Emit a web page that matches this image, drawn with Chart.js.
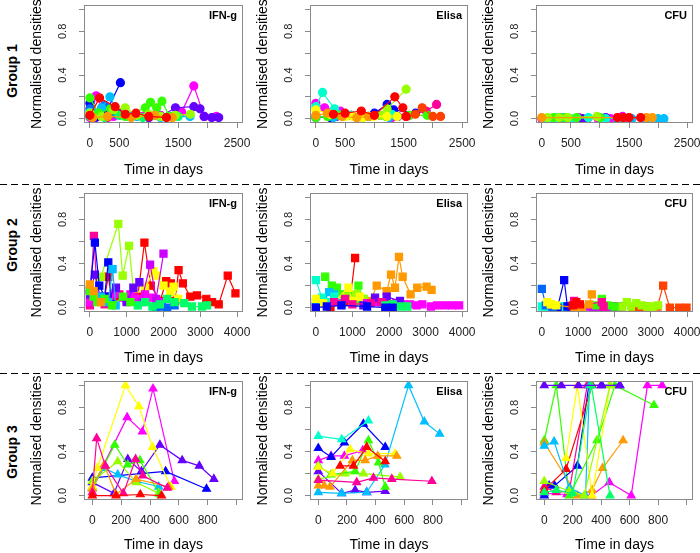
<!DOCTYPE html>
<html lang="en">
<head>
<meta charset="UTF-8">
<title>Normalised densities by group</title>
<script src="https://cdn.jsdelivr.net/npm/chart.js@4.4.0/dist/chart.umd.min.js"></script>
<style>
    body { margin: 0; background: #fff; font-family: "Liberation Sans", Arial, sans-serif; }
    #wrap { position: relative; width: 700px; height: 553px; overflow: hidden; }
    #wrap canvas { position: absolute; }
    .group {
        position: absolute; width: 80px; height: 16px; line-height: 16px;
        text-align: center; font-weight: bold; font-size: 14px; color: #000;
        transform: rotate(-90deg); white-space: nowrap;
    }
    .dash {
        position: absolute; left: 0; width: 700px; height: 1px;
        background: repeating-linear-gradient(to right, #000 0 7px, transparent 7px 11px);
    }
</style>
</head>
<body>
<div id="wrap">
    <div class="group" style="left:-28px; top:63px;">Group 1</div>
    <div class="group" style="left:-28px; top:237px;">Group 2</div>
    <div class="group" style="left:-28px; top:444px;">Group 3</div>
    <div class="dash" style="top:184px;"></div>
    <div class="dash" style="top:373px;"></div>
</div>

<script>
// ---- axis ticks ----
const yTicks = [0, 0.2, 0.4, 0.6, 0.8, 1.0];
const yTickLabels = ['0.0', '', '0.4', '', '0.8', ''];
const xTicksG1 = [0, 500, 1000, 1500, 2000, 2500];
const xTickLabelsG1 = ['0', '500', '', '1500', '', '2500'];
const xTicksG2 = [0, 1000, 2000, 3000, 4000];
const xTickLabelsG2 = ['0', '1000', '2000', '3000', '4000'];
const xTicksG3 = [0, 200, 400, 600, 800, 1000];
const xTickLabelsG3 = ['0', '200', '400', '600', '800', ''];
const panelTitles = ['IFN-g', 'Elisa', 'CFU'];

// ---- rainbow colours ----
const RED = '#FF0000', VERM = '#FF4000', ORANGE = '#FF9900', YELLOW = '#FFFF00',
      CHART = '#99FF00', GREEN = '#33FF00', SPRING = '#00FF66', TEAL = '#00FFCC',
      SKY = '#00BFFF', AZURE = '#0066FF', BLUE = '#0000FF', VIOLET = '#6600FF',
      PURPLE = '#CC00FF', MAGENTA = '#FF00FF', ROSE = '#FF0099';

// ---- Group 1, IFN-g ----
const g1IfnCols = [RED, ORANGE, CHART, GREEN, SPRING, SKY, AZURE, BLUE, VIOLET, MAGENTA, ROSE];
const g1IfnDays = [
    [0, 165, 429, 600, 782, 1000, 1300],
    [50, 300, 700, 1100, 1400],
    [0, 200, 400, 600, 800, 1000, 1200, 1450, 1706],
    [0, 150, 350, 600, 941, 1029, 1135, 1224, 1350],
    [0, 100, 250, 500, 650, 900, 1100, 1300, 1500],
    [0, 200, 341, 500, 800, 1200, 1700],
    [0, 120, 250, 450, 700],
    [0, 100, 250, 518],
    [100, 300, 550, 800, 1000, 1200, 1453, 1765, 1870, 1941, 2070, 2188],
    [0, 106, 206, 400, 600, 900, 1200, 1559, 1765, 1941, 2147],
    [0, 300, 700, 1000, 1400]
];
const g1IfnVals = [
    [0.03, 0.19, 0.11, 0.04, 0.05, 0.02, 0.01],
    [0.01, 0.02, 0.01, 0.03, 0.01],
    [0.05, 0.02, 0.08, 0.10, 0.03, 0.04, 0.02, 0.03, 0.04],
    [0.19, 0.05, 0.09, 0.02, 0.10, 0.15, 0.10, 0.16, 0.02],
    [0.02, 0.04, 0.01, 0.03, 0.02, 0.01, 0.03, 0.01, 0.02],
    [0.06, 0.10, 0.20, 0.03, 0.02, 0.01, 0.02],
    [0.09, 0.05, 0.12, 0.04, 0.02],
    [0.14, 0.02, 0.03, 0.33],
    [0.01, 0.02, 0.06, 0.03, 0.01, 0.02, 0.10, 0.11, 0.09, 0.02, 0.01, 0.01],
    [0.01, 0.21, 0.10, 0.02, 0.05, 0.02, 0.03, 0.06, 0.30, 0.02, 0.02],
    [0.02, 0.01, 0.02, 0.01, 0.02]
];

// ---- Group 1, Elisa ----
const g1ElisaCols = [RED, VERM, ORANGE, YELLOW, CHART, GREEN, TEAL, SKY, BLUE, VIOLET, MAGENTA, ROSE];
const g1ElisaDays = [
    [300, 500, 777, 1000, 1349, 1486, 1543],
    [1543, 1700, 1817, 2000, 2131],
    [0, 200, 450, 700, 900],
    [0, 246, 503, 634, 800, 989, 1217, 1389],
    [1100, 1217, 1543],
    [0, 200, 400, 800, 1200, 1600, 1903],
    [0, 114, 320, 600, 900, 1300],
    [0, 300, 600, 900, 1250],
    [0, 250, 600, 1000, 1217, 1331, 1703],
    [0, 350, 700, 1100, 1400],
    [0, 150, 417, 800, 1300],
    [1600, 1886, 2063]
];
const g1ElisaVals = [
    [0.04, 0.05, 0.07, 0.03, 0.20, 0.10, 0.02],
    [0.02, 0.04, 0.10, 0.02, 0.02],
    [0.03, 0.05, 0.02, 0.01, 0.02],
    [0.08, 0.04, 0.02, 0.02, 0.01, 0.02, 0.02, 0.02],
    [0.03, 0.09, 0.27],
    [0.01, 0.02, 0.03, 0.01, 0.02, 0.03, 0.03],
    [0.11, 0.24, 0.09, 0.03, 0.02, 0.04],
    [0.02, 0.01, 0.03, 0.02, 0.01],
    [0.02, 0.01, 0.03, 0.05, 0.13, 0.08, 0.05],
    [0.01, 0.02, 0.01, 0.03, 0.02],
    [0.14, 0.10, 0.07, 0.02, 0.01],
    [0.03, 0.07, 0.13]
];

// ---- Group 1, CFU ----
const g1CfuCols = [RED, ORANGE, CHART, GREEN, TEAL, VIOLET, SKY, MAGENTA];
const g1CfuDays = [
    [1300, 1400, 1500, 1700],
    [0, 1800, 1900],
    [100, 300, 450, 950],
    [200, 400, 600, 1000],
    [100, 250, 500, 800, 1100],
    [300, 700, 1100],
    [150, 350, 600, 1000, 1300, 1550, 1800, 2000, 2100],
    [0, 225, 397, 635, 787, 968, 1185, 1388, 1500]
];
const g1CfuVals = [
    [0.01, 0.01, 0.01, 0.01],
    [0.01, 0.01, 0.01],
    [0.01, 0.01, 0.01, 0.02],
    [0.01, 0.01, 0.01, 0.01],
    [0.00, 0.01, 0.00, 0.01, 0.00],
    [0.01, 0.00, 0.01],
    [0.00, 0.01, 0.00, 0.01, 0.00, 0.00, 0.00, 0.00, 0.00],
    [0.00, 0.00, 0.00, 0.01, 0.00, 0.00, 0.00, 0.02, 0.00]
];

// ---- Group 2, IFN-g ----
const g2IfnCols = [ORANGE, GREEN, SPRING, SKY, AZURE, BLUE, VIOLET, PURPLE, MAGENTA, ROSE, CHART, YELLOW, RED, RED];
const g2IfnDays = [
    [0, 100, 300],
    [0, 100, 200, 400, 600, 900, 1100],
    [1300, 1500, 1700, 1900, 2100, 2300, 2564, 2773, 3045, 3182],
    [300, 500, 618, 700],
    [1800, 1950, 2100, 2300],
    [0, 136, 255, 400, 500, 600],
    [0, 136, 300, 450, 709, 1000, 1182, 1345],
    [1400, 1636, 1800, 2000],
    [0, 100, 250, 500, 700, 900, 1100, 1300, 1500, 1700, 1900],
    [0, 109, 200, 400, 600, 800, 1000, 1200],
    [300, 773, 891, 1064, 1200],
    [1100, 1200, 1500, 1727, 1818, 2000, 2182, 2273, 2400],
    [400, 500, 600, 700],
    [1300, 1482, 1655, 1909, 2073, 2200, 2318, 2409, 2527, 2727, 2909, 3164, 3318, 3500, 3745, 3955]
];
const g2IfnVals = [
    [0.21, 0.15, 0.05],
    [0.15, 0.10, 0.05, 0.08, 0.02, 0.10, 0.05],
    [0.02, 0.05, 0.01, 0.03, 0.08, 0.05, 0.04, 0.01, 0.01, 0.02],
    [0.10, 0.05, 0.35, 0.02],
    [0.00, 0.01, 0.00, 0.02],
    [0.16, 0.59, 0.20, 0.10, 0.41, 0.03],
    [0.12, 0.30, 0.07, 0.05, 0.18, 0.05, 0.18, 0.23],
    [0.05, 0.39, 0.08, 0.49],
    [0.05, 0.12, 0.08, 0.10, 0.13, 0.09, 0.12, 0.08, 0.12, 0.09, 0.05],
    [0.02, 0.65, 0.10, 0.03, 0.08, 0.12, 0.06, 0.10],
    [0.28, 0.76, 0.29, 0.56, 0.10],
    [0.10, 0.12, 0.18, 0.33, 0.29, 0.20, 0.14, 0.19, 0.08],
    [0.10, 0.28, 0.05, 0.10],
    [0.10, 0.59, 0.20, 0.06, 0.24, 0.22, 0.06, 0.34, 0.22, 0.10, 0.11, 0.08, 0.05, 0.03, 0.29, 0.13]
];

// ---- Group 2, Elisa ----
const g2ElisaCols = [BLUE, SPRING, ROSE, VIOLET, MAGENTA, YELLOW, CHART, TEAL, SKY, GREEN, RED, ORANGE];
const g2ElisaDays = [
    [0, 300, 700, 1400, 1900, 2100],
    [1900, 2100, 2300, 2500],
    [500, 800, 1000, 1500, 1800, 2000],
    [1300, 1618, 1800, 1936, 2300],
    [1400, 1700, 2000, 2200, 2400, 2573, 2755, 2909, 3145, 3318, 3527, 3727, 3918],
    [0, 200, 500, 891, 1000, 1200],
    [800, 1000, 1100, 1300],
    [0, 164, 300, 500, 700],
    [0, 200, 364, 500, 700],
    [255, 436, 573, 727, 900, 1073, 1164, 1300],
    [0, 400, 800, 950, 1073],
    [1400, 1500, 1664, 1936, 2055, 2164, 2273, 2373, 2590, 2773, 3027, 3164]
];
const g2ElisaVals = [
    [0.00, 0.01, 0.02, 0.01, 0.00, 0.00],
    [0.02, 0.03, 0.01, 0.01],
    [0.05, 0.08, 0.03, 0.04, 0.05, 0.03],
    [0.02, 0.09, 0.05, 0.10, 0.06],
    [0.04, 0.05, 0.03, 0.04, 0.03, 0.03, 0.02, 0.03, 0.01, 0.02, 0.02, 0.02, 0.02],
    [0.08, 0.04, 0.05, 0.18, 0.06, 0.10],
    [0.10, 0.05, 0.12, 0.08],
    [0.25, 0.09, 0.05, 0.10, 0.03],
    [0.05, 0.08, 0.14, 0.12, 0.04],
    [0.28, 0.20, 0.18, 0.12, 0.12, 0.05, 0.20, 0.08],
    [0.01, 0.00, 0.05, 0.10, 0.45],
    [0.04, 0.06, 0.20, 0.15, 0.30, 0.18, 0.46, 0.28, 0.12, 0.18, 0.19, 0.16]
];

// ---- Group 2, CFU ----
const g2CfuCols = [RED, YELLOW, ORANGE, AZURE, BLUE, ROSE, GREEN, CHART, VERM, TEAL, PURPLE];
const g2CfuDays = [
    [850, 950, 1050],
    [150, 250, 400],
    [250, 900, 1100, 1303, 1376],
    [0, 110, 300],
    [300, 431, 615, 706],
    [800, 890, 1000, 1651, 1700],
    [1500, 1651, 1800, 2000],
    [2200, 2339, 2450, 2600, 2750, 2900, 3050, 3200],
    [2500, 2700, 2900, 3183, 3339, 3523, 3780, 3982],
    [0, 100, 200, 300, 400, 500, 600, 700, 800],
    [1300, 1400, 1500, 1600, 1700, 1800, 1900, 2000, 2100, 2200]
];
const g2CfuVals = [
    [0.02, 0.05, 0.03],
    [0.05, 0.03, 0.02],
    [0.03, 0.00, 0.00, 0.03, 0.12],
    [0.17, 0.02, 0.00],
    [0.00, 0.00, 0.25, 0.01],
    [0.01, 0.06, 0.02, 0.05, 0.01],
    [0.02, 0.08, 0.02, 0.01],
    [0.01, 0.05, 0.01, 0.04, 0.02, 0.01, 0.01, 0.02],
    [0.00, 0.00, 0.01, 0.01, 0.20, 0.00, 0.00, 0.00],
    [0.01, 0.01, 0.01, 0.01, 0.01, 0.01, 0.01, 0.01, 0.01],
    [0.01, 0.01, 0.01, 0.01, 0.01, 0.01, 0.01, 0.01, 0.01, 0.01]
];

// ---- Group 3, IFN-g ----
const g3IfnCols = [RED, ROSE, ORANGE, YELLOW, GREEN, CHART, SKY, BLUE, VIOLET, MAGENTA];
const g3IfnDays = [
    [0, 164, 333, 480],
    [0, 30, 90, 215, 300, 350, 520],
    [0, 82, 164, 304, 530],
    [0, 35, 230, 323, 417, 545],
    [0, 155, 246, 330, 468],
    [0, 176, 304, 460],
    [0, 80, 176, 304, 461],
    [0, 508, 792],
    [0, 150, 246, 340, 468, 623, 742, 843],
    [0, 241, 347, 421, 569]
];
const g3IfnVals = [
    [0.00, 0.00, 0.01, 0.00],
    [0.03, 0.52, 0.27, 0.02, 0.33, 0.18, 0.07],
    [0.06, 0.28, 0.01, 0.15, 0.08],
    [0.08, 0.25, 1.00, 0.81, 0.44, 0.08],
    [0.08, 0.46, 0.28, 0.32, 0.01],
    [0.13, 0.31, 0.12, 0.02],
    [0.07, 0.25, 0.19, 0.13, 0.08],
    [0.16, 0.22, 0.06],
    [0.12, 0.02, 0.33, 0.22, 0.46, 0.32, 0.27, 0.15],
    [0.07, 0.71, 0.58, 0.97, 0.13]
];

// ---- Group 3, Elisa ----
const g3ElisaCols = [RED, ROSE, ORANGE, YELLOW, GREEN, CHART, TEAL, SKY, BLUE, VIOLET, MAGENTA];
const g3ElisaDays = [
    [152, 245, 338, 467],
    [0, 268, 385, 513, 793],
    [0, 42, 82, 238, 327, 415, 548],
    [0, 100, 222, 350, 536],
    [0, 89, 257, 350, 420, 467],
    [0, 187, 315, 571],
    [0, 163, 350],
    [0, 163, 338, 465, 630, 740, 847],
    [0, 89, 182, 315, 467],
    [0, 163, 257, 338, 467],
    [0, 89, 182, 310]
];
const g3ElisaVals = [
    [0.27, 0.27, 0.44, 0.31],
    [0.14, 0.12, 0.16, 0.15, 0.13],
    [0.09, 0.09, 0.08, 0.32, 0.32, 0.36, 0.36],
    [0.26, 0.20, 0.42, 0.38, 0.38],
    [0.27, 0.19, 0.22, 0.50, 0.30, 0.08],
    [0.15, 0.20, 0.20, 0.17],
    [0.54, 0.51, 0.68],
    [0.03, 0.02, 0.03, 0.28, 1.00, 0.67, 0.56],
    [0.43, 0.35, 0.48, 0.65, 0.44],
    [0.22, 0.02, 0.05, 0.03, 0.04],
    [0.32, 0.36, 0.36, 0.41]
];

// ---- Group 3, CFU ----
const g3CfuCols = [VIOLET, SPRING, CHART, YELLOW, SKY, RED, ROSE, BLUE, ORANGE, GREEN, MAGENTA];
const g3CfuDays = [
    [0, 120, 240, 400, 530],
    [0, 85, 200, 330, 462],
    [0, 176, 280, 462],
    [153, 233, 336, 462],
    [0, 69, 176, 290, 318],
    [0, 153, 336],
    [0, 85, 176, 302],
    [0, 34, 73, 233, 313, 405, 531],
    [0, 233, 336, 410, 554],
    [0, 85, 176, 371, 497, 771],
    [0, 160, 330, 457, 611, 725, 828]
];
const g3CfuVals = [
    [1.00, 1.00, 1.00, 1.00, 1.00],
    [0.03, 0.05, 0.02, 1.00, 0.00],
    [0.13, 0.04, 0.00, 1.00],
    [0.34, 1.00, 0.00, 1.00],
    [0.45, 0.49, 0.07, 0.00, 1.00],
    [0.05, 0.24, 1.00],
    [0.08, 0.03, 0.04, 1.00],
    [0.00, 0.09, 0.09, 0.27, 1.00, 1.00, 1.00],
    [0.48, 0.00, 0.05, 0.25, 0.50],
    [0.50, 1.00, 0.00, 0.50, 1.00, 0.82],
    [0.02, 0.01, 0.00, 0.12, 0.00, 1.00, 1.00]
];

// ---- layout of the 3x3 grid ----
const rows = [
    { top: 0,   h: 182, boxTop: 5,   boxBottom: 123, xMin: -100, xMax: 2600, ticks: xTicksG1, labels: xTickLabelsG1, point: 'circle',   radius: 4,   titlePad: 5 },
    { top: 182, h: 188, boxTop: 193, boxBottom: 312, xMin: -160, xMax: 4160, ticks: xTicksG2, labels: xTickLabelsG2, point: 'rect',     radius: 5,   titlePad: 5 },
    { top: 370, h: 183, boxTop: 381, boxBottom: 500, xMin: -58,  xMax: 1045, ticks: xTicksG3, labels: xTickLabelsG3, point: 'triangle', radius: 4.5, titlePad: 1 }
];
const cols = [
    { left: 0,   w: 252, boxLeft: 84,  boxRight: 243 },
    { left: 226, w: 252, boxLeft: 310, boxRight: 468 },
    { left: 452, w: 248, boxLeft: 536, boxRight: 693 }
];
const panelData = [
    [[g1IfnDays, g1IfnVals, g1IfnCols], [g1ElisaDays, g1ElisaVals, g1ElisaCols], [g1CfuDays, g1CfuVals, g1CfuCols]],
    [[g2IfnDays, g2IfnVals, g2IfnCols], [g2ElisaDays, g2ElisaVals, g2ElisaCols], [g2CfuDays, g2CfuVals, g2CfuCols]],
    [[g3IfnDays, g3IfnVals, g3IfnCols], [g3ElisaDays, g3ElisaVals, g3ElisaCols], [g3CfuDays, g3CfuVals, g3CfuCols]]
];

const FONT = '"Liberation Sans", Arial, sans-serif';
const BOX = '#8a8a8a';

// box, rotated y tick labels and panel title, R style
function rFrame(title) {
    return {
        id: 'rFrame',
        afterDraw(chart) {
            const ctx = chart.ctx, a = chart.chartArea, ys = chart.scales.y;
            ctx.save();
            ctx.strokeStyle = BOX;
            ctx.lineWidth = 1;
            ctx.strokeRect(Math.round(a.left) + 0.5, Math.round(a.top) + 0.5,
                           Math.round(a.right - a.left) - 1, Math.round(a.bottom - a.top) - 1);
            ctx.fillStyle = '#222';
            ctx.font = '11px ' + FONT;
            ctx.textAlign = 'center';
            ctx.textBaseline = 'middle';
            yTicks.forEach((v, i) => {
                if (!yTickLabels[i]) return;
                ctx.save();
                ctx.translate(a.left - 21, ys.getPixelForValue(v));
                ctx.rotate(-Math.PI / 2);
                ctx.fillText(yTickLabels[i], 0, 0);
                ctx.restore();
            });
            ctx.fillStyle = '#000';
            ctx.font = 'bold 11px ' + FONT;
            ctx.textAlign = 'right';
            ctx.fillText(title, a.right - 6, a.top + 11);
            ctx.restore();
        }
    };
}

const wrap = document.getElementById('wrap');

rows.forEach((row, r) => {
    cols.forEach((col, c) => {
        const [days, vals, colors] = panelData[r][c];
        const canvas = document.createElement('canvas');
        canvas.width = col.w;
        canvas.height = row.h;
        canvas.style.left = col.left + 'px';
        canvas.style.top = row.top + 'px';
        wrap.appendChild(canvas);

        const datasets = days.map((d, i) => ({
            data: d.map((x, j) => ({ x: x, y: vals[i][j] })),
            borderColor: colors[i],
            backgroundColor: colors[i],
            pointBackgroundColor: colors[i],
            pointBorderColor: colors[i],
            borderWidth: 1.2,
            pointRadius: row.radius,
            pointStyle: row.point,
            tension: 0
        }));

        new Chart(canvas.getContext('2d'), {
            type: 'line',
            data: { datasets: datasets },
            options: {
                responsive: false,
                animation: false,
                devicePixelRatio: 1,
                layout: { padding: { left: 0, top: row.boxTop - row.top, right: col.left + col.w - col.boxRight, bottom: 0 } },
                plugins: { legend: { display: false }, tooltip: { enabled: false } },
                scales: {
                    x: {
                        type: 'linear',
                        min: row.xMin,
                        max: row.xMax,
                        afterBuildTicks: s => { s.ticks = row.ticks.map(v => ({ value: v })); },
                        afterFit: s => {
                            s.height = row.top + row.h - row.boxBottom;
                            s.paddingLeft = 0; s.paddingRight = 0;
                        },
                        ticks: {
                            autoSkip: false, maxRotation: 0, minRotation: 0, padding: 8,
                            color: '#222', font: { family: FONT, size: 12 },
                            callback: v => row.labels[row.ticks.indexOf(v)]
                        },
                        grid: { drawOnChartArea: false, drawTicks: true, tickLength: 5, color: BOX },
                        border: { display: false },
                        title: {
                            display: true, text: 'Time in days', color: '#000',
                            font: { family: FONT, size: 14, lineHeight: 1 },
                            padding: { top: 0, bottom: row.titlePad }
                        }
                    },
                    y: {
                        type: 'linear',
                        min: -0.04,
                        max: 1.04,
                        afterBuildTicks: s => { s.ticks = yTicks.map(v => ({ value: v })); },
                        afterFit: s => {
                            s.width = col.boxLeft - col.left;
                            s.paddingTop = 0; s.paddingBottom = 0;
                        },
                        ticks: { display: false },
                        grid: { drawOnChartArea: false, drawTicks: true, tickLength: 5, color: BOX },
                        border: { display: false },
                        title: {
                            display: true, text: 'Normalised densities', color: '#000',
                            font: { family: FONT, size: 14, lineHeight: 1 },
                            padding: { top: 30, bottom: 0 }
                        }
                    }
                }
            },
            plugins: [rFrame(panelTitles[c])]
        });
    });
});
</script>
</body>
</html>
